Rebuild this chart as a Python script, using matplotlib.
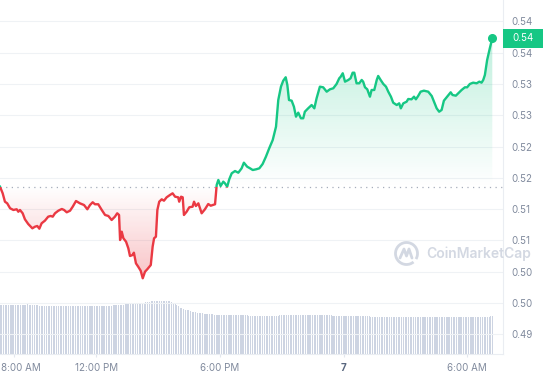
import numpy as np
import matplotlib.pyplot as plt
from matplotlib.patches import Rectangle, Arc
from matplotlib.transforms import blended_transform_factory
from matplotlib.colors import LinearSegmentedColormap

# price, hours counted from midnight of the 6th (24 = midnight of the 7th)
times = [7.32, 7.45, 7.56, 7.67, 7.81, 7.97, 8.13, 8.21, 8.29, 8.42, 8.53, 8.69,
         8.89, 9.02, 9.13, 9.23, 9.34, 9.50, 9.66, 9.78, 9.88, 9.99, 10.15, 10.32,
         10.43, 10.56, 10.72, 10.85, 11.01, 11.20, 11.40, 11.56, 11.69, 11.82, 11.93, 12.09,
         12.26, 12.42, 12.58, 12.74, 12.90, 13.01, 13.10, 13.15, 13.23, 13.31, 13.44, 13.55,
         13.63, 13.76, 13.82, 13.92, 14.03, 14.15, 14.25, 14.36, 14.47, 14.64, 14.73, 14.80,
         14.89, 14.96, 15.05, 15.17, 15.28, 15.41, 15.57, 15.70, 15.82, 15.97, 16.02, 16.11,
         16.19, 16.25, 16.38, 16.51, 16.67, 16.74, 16.83, 16.95, 17.11, 17.27, 17.43, 17.55,
         17.76, 17.84, 17.92, 18.03, 18.16, 18.24, 18.35, 18.45, 18.57, 18.73, 18.89, 19.05,
         19.16, 19.32, 19.46, 19.59, 19.75, 19.91, 20.07, 20.23, 20.39, 20.56, 20.72, 20.83,
         20.96, 21.07, 21.19, 21.27, 21.35, 21.48, 21.59, 21.69, 21.80, 21.93, 22.04, 22.12,
         22.28, 22.45, 22.58, 22.69, 22.85, 23.01, 23.18, 23.34, 23.50, 23.66, 23.79, 23.86,
         23.96, 24.07, 24.23, 24.34, 24.44, 24.52, 24.63, 24.76, 24.88, 24.95, 25.04, 25.15,
         25.28, 25.36, 25.49, 25.61, 25.68, 25.80, 25.93, 26.06, 26.17, 26.30, 26.41, 26.58,
         26.70, 26.78, 26.90, 27.06, 27.14, 27.30, 27.42, 27.51, 27.62, 27.74, 27.90, 28.11,
         28.28, 28.39, 28.52, 28.64, 28.76, 28.87, 29.03, 29.20, 29.29, 29.45, 29.57, 29.73,
         29.89, 30.00, 30.13, 30.29, 30.46, 30.59, 30.70, 30.78, 30.86, 30.97, 31.10, 31.22]
prices = [0.51359, 0.51253, 0.51119, 0.51093, 0.51014, 0.50987, 0.50998, 0.50959, 0.50987, 0.50934, 0.50838, 0.50763,
          0.50694, 0.50720, 0.50731, 0.50688, 0.50774, 0.50816, 0.50880, 0.50891, 0.50880, 0.50934, 0.50975, 0.51003,
          0.50987, 0.50950, 0.50975, 0.51039, 0.51130, 0.51093, 0.51066, 0.50998, 0.51066, 0.51110, 0.51078, 0.51078,
          0.50987, 0.50907, 0.50891, 0.50827, 0.50880, 0.50934, 0.50907, 0.50507, 0.50640, 0.50535, 0.50480, 0.50375,
          0.50252, 0.50268, 0.50305, 0.50135, 0.50081, 0.50017, 0.49896, 0.50001, 0.50040, 0.50108, 0.50400, 0.50535,
          0.50560, 0.50987, 0.51119, 0.51157, 0.51135, 0.51189, 0.51226, 0.51253, 0.51199, 0.51189, 0.51119, 0.51199,
          0.51189, 0.50907, 0.50959, 0.51030, 0.51039, 0.51119, 0.51050, 0.51093, 0.50934, 0.50998, 0.51082, 0.51055,
          0.51078, 0.51386, 0.51466, 0.51370, 0.51439, 0.51413, 0.51359, 0.51477, 0.51573, 0.51609, 0.51582, 0.51652,
          0.51742, 0.51678, 0.51652, 0.51625, 0.51636, 0.51652, 0.51721, 0.51838, 0.51972, 0.52104, 0.52317, 0.52743,
          0.52956, 0.53051, 0.53106, 0.52983, 0.52743, 0.52732, 0.52636, 0.52477, 0.52541, 0.52451, 0.52451, 0.52556,
          0.52610, 0.52663, 0.52610, 0.52770, 0.52956, 0.52946, 0.52876, 0.52914, 0.52930, 0.52999, 0.53090, 0.53115,
          0.53170, 0.53036, 0.53063, 0.53090, 0.53179, 0.53179, 0.53010, 0.53010, 0.53063, 0.53036, 0.52946, 0.52914,
          0.52796, 0.52903, 0.52903, 0.53063, 0.53127, 0.53063, 0.52999, 0.52956, 0.52876, 0.52796, 0.52700, 0.52663,
          0.52690, 0.52610, 0.52690, 0.52716, 0.52759, 0.52754, 0.52796, 0.52754, 0.52807, 0.52876, 0.52892, 0.52876,
          0.52807, 0.52716, 0.52610, 0.52556, 0.52584, 0.52732, 0.52796, 0.52866, 0.52823, 0.52812, 0.52850, 0.52903,
          0.52946, 0.52946, 0.52999, 0.53020, 0.53010, 0.53036, 0.53020, 0.53063, 0.53142, 0.53382, 0.53569, 0.53729]
open_price = 0.5135

# volume bars, one every 5 minutes from 7:19 AM (millions)
vol_start = 7.32
volumes = [
    245, 245, 244, 246, 245, 245, 244, 245, 246, 245, 245, 246,
    246, 246, 247, 247, 248, 247, 246, 247, 246, 244, 243, 242,
    241, 240, 240, 241, 240, 240, 240, 241, 240, 240, 240, 240,
    240, 240, 241, 240, 240, 240, 240, 240, 240, 241, 240, 240,
    240, 240, 240, 240, 241, 240, 240, 240, 240, 240, 240, 240,
    240, 240, 241, 241, 242, 242, 243, 244, 244, 245, 246, 247,
    247, 248, 248, 249, 249, 250, 250, 251, 252, 252, 253, 254,
    255, 258, 260, 262, 264, 265, 266, 266, 267, 267, 267, 267,
    266, 266, 265, 263, 260, 256, 250, 244, 238, 232, 228, 224,
    222, 220, 218, 215, 212, 210, 208, 206, 205, 204, 203, 202,
    201, 200, 199, 198, 198, 197, 197, 196, 196, 195, 195, 194,
    194, 194, 193, 193, 193, 193, 193, 193, 193, 193, 193, 193,
    193, 192, 192, 192, 192, 192, 192, 192, 192, 192, 192, 192,
    192, 192, 192, 192, 192, 192, 192, 193, 193, 193, 193, 193,
    193, 193, 193, 193, 193, 193, 193, 193, 193, 193, 193, 193,
    193, 193, 193, 193, 193, 193, 193, 193, 193, 193, 193, 193,
    193, 193, 192, 192, 191, 191, 190, 190, 190, 190, 190, 190,
    190, 190, 190, 189, 189, 189, 189, 188, 188, 188, 188, 188,
    187, 187, 187, 187, 187, 187, 187, 187, 187, 187, 187, 187,
    187, 187, 187, 187, 187, 187, 187, 187, 187, 187, 187, 187,
    187, 187, 187, 187, 187, 187, 187, 187, 187, 187, 187, 187,
    187, 187, 187, 187, 187, 187, 187, 187, 187, 187, 187, 187,
    187, 187, 187, 187, 187, 187, 187, 187, 187, 187, 187, 187,
    187, 187, 187, 187, 187, 187, 187, 187, 187, 187, 188, 190]

y_ticks = [0.49, 0.495, 0.50, 0.505, 0.51, 0.515, 0.52, 0.525, 0.53, 0.535, 0.54]
y_labels = ['0.49', '0.50', '0.50', '0.51', '0.51', '0.52', '0.52', '0.53', '0.53', '0.54', '0.54']
x_ticks = [8, 12, 18, 24, 30]
x_labels = ['8:00 AM', '12:00 PM', '6:00 PM', '7', '6:00 AM']

GREEN = '#16c784'
RED = '#ea3943'
GRID = '#eff2f5'
LABEL = '#808a9d'

plt.rcParams['font.family'] = ['Inter', 'DejaVu Sans']

t = np.array(times)
p = np.array(prices)

fig = plt.figure(figsize=(5.45, 3.8), dpi=100)
ax = fig.add_axes([0, 1 - 354 / 380, 503 / 545, 354 / 380])
xmin, xmax = 7.32, 31.74
ymin, ymax = 0.48687, 0.54340

# volume underneath
vax = ax.twinx()
vol_t = vol_start + np.arange(len(volumes)) / 12
vax.bar(vol_t, volumes, width=0.052, color='#cdd4e2', align='center', zorder=1)
vax.set_ylim(0, 1770)
vax.set_axis_off()
ax.set_zorder(vax.get_zorder() + 1)
ax.patch.set_visible(False)

# grid
for yv in y_ticks:
    ax.axhline(yv, color=GRID, lw=0.8, zorder=0)

# gradient fills
up = ax.fill_between(t, np.maximum(p, open_price), open_price, facecolor='none', edgecolor='none')
dn = ax.fill_between(t, np.minimum(p, open_price), open_price, facecolor='none', edgecolor='none')
gcmap = LinearSegmentedColormap.from_list('g', [(0.086, 0.78, 0.518, 0.0), (0.086, 0.78, 0.518, 0.27)])
rcmap = LinearSegmentedColormap.from_list('r', [(0.918, 0.224, 0.263, 0.0), (0.918, 0.224, 0.263, 0.30)])
grad = np.linspace(0, 1, 256).reshape(-1, 1)
im_g = ax.imshow(grad, cmap=gcmap, origin='lower', aspect='auto',
                 extent=[t[0], t[-1], open_price, p.max()], zorder=1)
im_g.set_clip_path(up.get_paths()[0], ax.transData)
im_r = ax.imshow(grad[::-1], cmap=rcmap, origin='lower', aspect='auto',
                 extent=[t[0], t[-1], p.min(), open_price], zorder=1)
im_r.set_clip_path(dn.get_paths()[0], ax.transData)

# dotted open line
ax.axhline(open_price, color='#a6adbb', lw=0.9, ls=(0, (1, 3.5)), zorder=2)

# price line, green above open, red below
above = Rectangle((xmin - 5, open_price), 50, 1, transform=ax.transData)
below = Rectangle((xmin - 5, open_price - 1), 50, 1, transform=ax.transData)
lg, = ax.plot(t, p, color=GREEN, lw=1.7, zorder=3, solid_joinstyle='round')
lg.set_clip_path(above)
lr, = ax.plot(t, p, color=RED, lw=1.7, zorder=3, solid_joinstyle='round')
lr.set_clip_path(below)
ax.plot(t[-1], p[-1], 'o', color=GREEN, ms=5.5, zorder=4, clip_on=False)

ax.set_xlim(xmin, xmax)
ax.set_ylim(ymin, ymax)

ax.yaxis.tick_right()
ax.set_yticks(y_ticks)
ax.set_yticklabels(y_labels)
ax.tick_params(axis='y', length=0, pad=6, labelsize=7, labelcolor=LABEL)
ax.set_xticks(x_ticks)
ax.set_xticklabels([''] + x_labels[1:])
ax.tick_params(axis='x', length=2.5, color='#e3e7ee', pad=4, labelsize=7, labelcolor=LABEL)
xl = ax.get_xticklabels()
xl[3].set_fontweight('bold')
xl[3].set_color('#58667e')
# first label is pushed right so it stays inside the picture
ax.annotate(x_labels[0], xy=(0, 0), xycoords='axes fraction', xytext=(0.5, -6.5),
            textcoords='offset points', ha='left', va='top', fontsize=7, color=LABEL)

for side in ['top', 'left']:
    ax.spines[side].set_visible(False)
for side in ['right', 'bottom']:
    ax.spines[side].set_color('#eaedf2')
    ax.spines[side].set_linewidth(0.8)

# current price badge
bt = blended_transform_factory(ax.transAxes, ax.transData)
ax.add_patch(Rectangle((1.0, p[-1] - 0.0015), 40 / 503, 0.003, transform=bt,
                       facecolor=GREEN, edgecolor='none', clip_on=False, zorder=6))
ax.text(1.0 + 20 / 503, p[-1], '0.54', transform=bt, ha='center', va='center',
        color='white', fontsize=7, zorder=7, clip_on=False)

# watermark
wm = '#d3d8e2'
fig.patches.append(Arc((406.5 / 545, 1 - 253.5 / 380), 22 / 545, 22 / 380, theta1=-40, theta2=300,
                       transform=fig.transFigure, color=wm, lw=2.0))
fig.lines.append(plt.Line2D([400 / 545, 404 / 545, 406.5 / 545, 409 / 545, 412 / 545],
                            [1 - 258 / 380, 1 - 249 / 380, 1 - 256 / 380, 1 - 249 / 380, 1 - 258 / 380],
                            transform=fig.transFigure, color=wm, lw=2.0, solid_capstyle='round'))
fig.text(426 / 545, 1 - 254 / 380, 'CoinMarketCap', color=wm, fontsize=10, fontweight='semibold',
         ha='left', va='center')

fig.savefig('out.png', dpi=100)
